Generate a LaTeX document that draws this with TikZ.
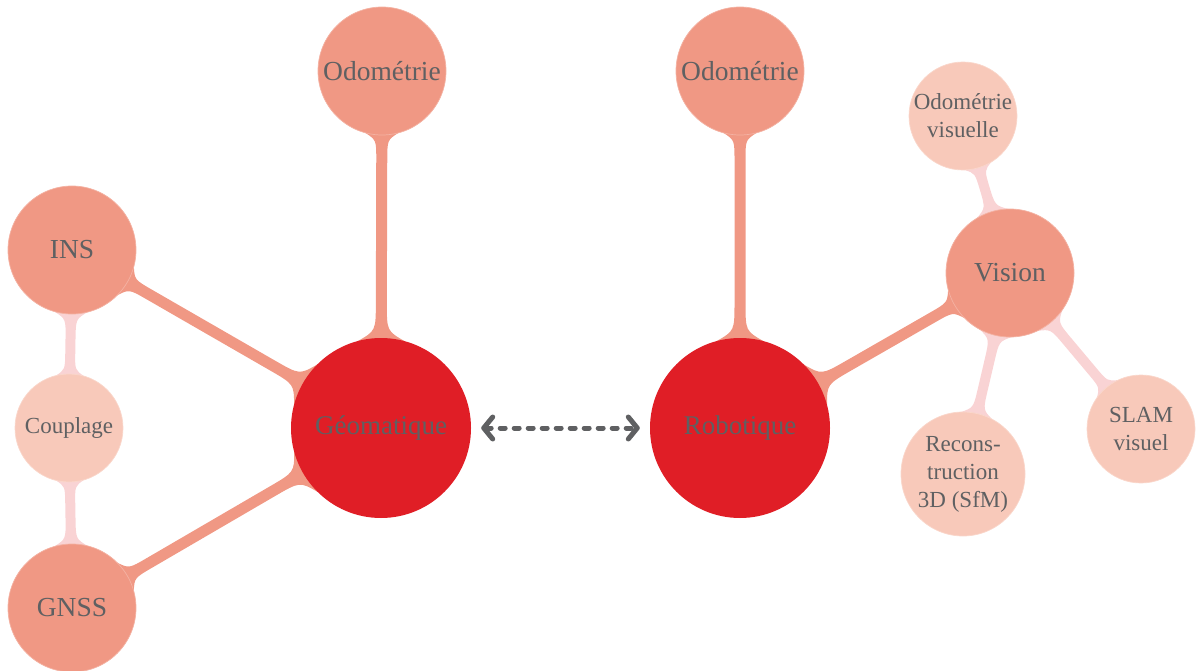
\documentclass[tikz,border=0pt]{standalone}
\usepackage{fontspec}
\setmainfont{Liberation Serif}
\newfontfamily\mmfont{Liberation Serif}
\usetikzlibrary{calc,arrows.meta}
\pgfdeclarelayer{background}
\pgfsetlayers{background,main}
\definecolor{rootred}{HTML}{E01E26}
\definecolor{lvlone}{HTML}{F09884}
\definecolor{lvltwo}{HTML}{F8C9BA}
\definecolor{pinkconn}{HTML}{F9D3D4}
\definecolor{txtgray}{HTML}{5F6062}
\newcommand\mmconn[6]{%
 \pgfmathsetmacro\rA{#3}\pgfmathsetmacro\rB{#4}%
 \pgfmathsetmacro\cA{\rA*1.08}\pgfmathsetmacro\qA{\rA*1.4}%
 \pgfmathsetmacro\cB{\rB*1.08}\pgfmathsetmacro\qB{\rB*1.4}%
 \fill[#6] ($(#1)!\rA pt!15:(#2)$)
   .. controls ($ ($(#1)!\cA pt!(#2)$)!#5pt!90:(#2) $) .. ($ ($(#1)!\qA pt!(#2)$)!#5pt!90:(#2) $)
   -- ($ ($(#2)!\qB pt!(#1)$)!#5pt!-90:(#1) $)
   .. controls ($ ($(#2)!\cB pt!(#1)$)!#5pt!-90:(#1) $) .. ($(#2)!\rB pt!-15:(#1)$)
   -- ($(#2)!\rB pt!15:(#1)$)
   .. controls ($ ($(#2)!\cB pt!(#1)$)!#5pt!90:(#1) $) .. ($ ($(#2)!\qB pt!(#1)$)!#5pt!90:(#1) $)
   -- ($ ($(#1)!\qA pt!(#2)$)!#5pt!-90:(#2) $)
   .. controls ($ ($(#1)!\cA pt!(#2)$)!#5pt!-90:(#2) $) .. ($(#1)!\rA pt!-15:(#2)$)
   -- cycle;
}
\tikzset{
 mmnode/.style={circle, inner sep=0pt, align=center, text=txtgray},
 rootnode/.style={mmnode, fill=rootred, minimum size=180pt, font=\mmfont\fontsize{27}{32}\selectfont},
 onenode/.style={mmnode, fill=lvlone, draw=lvlone!75!white, line width=0.7pt, minimum size=128pt, font=\mmfont\fontsize{27.5}{33}\selectfont},
 twonode/.style={mmnode, fill=lvltwo, draw=lvltwo!75!white, line width=0.7pt, minimum size=108pt, font=\mmfont\fontsize{23}{28}\selectfont},
 linkarrow/.style={draw=txtgray, line width=5pt, line cap=round, dash pattern=on 5pt off 9pt,
   {Straight Barb[length=9pt,width=22pt,round]}-{Straight Barb[length=9pt,width=22pt,round]},
   shorten <=10pt, shorten >=10pt}
}
\begin{document}
\begin{tikzpicture}[x=1pt,y=-1pt]
\useasboundingbox (0,0) rectangle (1196,671);
% root nodes
\node[rootnode] (geo) at (381,428) {Géomatique};
\node[rootnode] (rob) at (740,428) {Robotique};
% level one
\node[onenode] (odoL) at (382,71) {Odométrie};
\node[onenode] (ins) at (72,250) {INS};
\node[onenode] (gnss) at (72,608) {GNSS};
\node[onenode] (odoR) at (740,71) {Odométrie};
\node[onenode] (vis) at (1010,273) {Vision};
% level two
\node[twonode] (coup) at (69,428) {Couplage};
\node[twonode] (odovis) at (963,116) {Odométrie\\visuelle};
\node[twonode, minimum size=124pt] (recon) at (963,474) {Recons-\\truction\\3D (SfM)};
\node[twonode] (slam) at (1141,429) {SLAM\\visuel};
% connections
\begin{pgfonlayer}{background}
\mmconn{geo}{odoL}{90}{64}{5.5}{lvlone}
\mmconn{geo}{ins}{90}{64}{5.5}{lvlone}
\mmconn{geo}{gnss}{90}{64}{5.5}{lvlone}
\mmconn{rob}{odoR}{90}{64}{5.5}{lvlone}
\mmconn{rob}{vis}{90}{64}{5.5}{lvlone}
\mmconn{ins}{coup}{64}{54}{5}{pinkconn}
\mmconn{coup}{gnss}{54}{64}{5}{pinkconn}
\mmconn{vis}{odovis}{64}{54}{5}{pinkconn}
\mmconn{vis}{recon}{64}{62}{5}{pinkconn}
\mmconn{vis}{slam}{64}{54}{5}{pinkconn}
\end{pgfonlayer}
% link
\draw[linkarrow] (geo) -- (rob);
\end{tikzpicture}
\end{document}
